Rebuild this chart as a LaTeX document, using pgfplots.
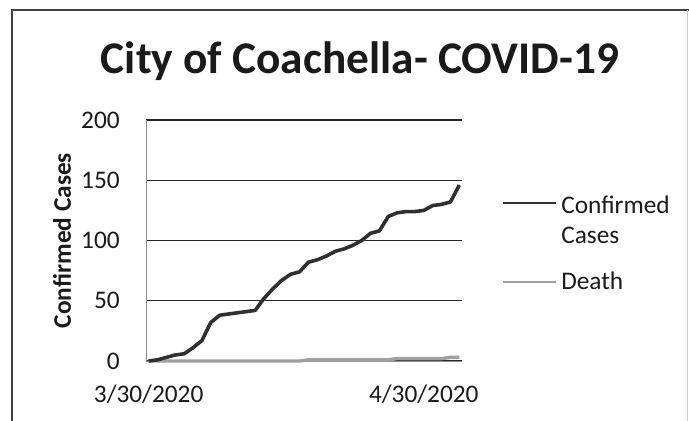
\documentclass[border=0pt]{standalone}
\usepackage{fontspec}
\setmainfont{Carlito}
\usepackage{pgfplots}
\usepackage{pgfplotstable}
\pgfplotsset{compat=1.18}

\definecolor{casecol}{HTML}{303030}
\definecolor{deathcol}{HTML}{A0A0A0}
\definecolor{gridcol}{HTML}{262626}
\definecolor{txtcol}{HTML}{1A1A1A}

% day 0 = 3/30/2020
\pgfplotstableread{
day cases deaths
0   0   0
1   1   0
2   3   0
3   5   0
4   6   0
5   11  0
6   17  0
7   32  0
8   38  0
9   39  0
10  40  0
11  41  0
12  42  0
13  52  0
14  60  0
15  67  0
16  72  0
17  74  0
18  82  1
19  84  1
20  87  1
21  91  1
22  93  1
23  96  1
24  100 1
25  106 1
26  108 1
27  120 1
28  123 2
29  124 2
30  124 2
31  125 2
32  129 2
33  130 2
34  132 3
35  146 3
}\covid

\newcommand\tickfont{\fontsize{19}{22}\selectfont}

\begin{document}
\begin{tikzpicture}
\begin{scope}[x=0.75pt,y=-0.75pt]
  \useasboundingbox (0,0) rectangle (689,421);
  \draw[black!75, line width=1.1pt] (12,421) -- (12,10) -- (689,10);
  \draw[black!20, line width=0.7pt] (687,10) -- (687,421);
  \node[anchor=base, inner sep=0pt, text=txtcol,
        font=\bfseries\fontsize{34}{40}\selectfont] at (360,73)
        {City of Coachella- COVID-19};
  % legend
  \draw[casecol, line width=2.2pt] (503,203) -- (556,203);
  \node[anchor=base west, inner sep=0pt, text=txtcol, font=\tickfont] at (561,213) {Confirmed};
  \node[anchor=base west, inner sep=0pt, text=txtcol, font=\tickfont] at (561,243) {Cases};
  \draw[deathcol, line width=2.2pt] (503,282) -- (556,282);
  \node[anchor=base west, inner sep=0pt, text=txtcol, font=\tickfont] at (561,289) {Death};
\end{scope}

\begin{axis}[
    at={(109.5pt,-270.75pt)}, anchor=south west,
    scale only axis,
    width=237pt, height=180.75pt,
    xmin=-0.3, xmax=35.3,
    ymin=0, ymax=200,
    ytick={0,50,...,200},
    xtick={0,31},
    xticklabels={3/30/2020,4/30/2020},
    ymajorgrids,
    grid style={gridcol, line width=0.8pt},
    axis lines*=left,
    axis line style={black!45, line width=0.6pt},
    tick style={draw=none},
    /pgf/number format/assume math mode=true,
    ticklabel style={font=\tickfont, text=txtcol},
    yticklabel style={anchor=east, inner sep=0pt, xshift=-19.5pt},
    xticklabel style={anchor=north, inner sep=0pt, yshift=-18pt},
    ylabel={Confirmed Cases},
    ylabel style={at={(axis description cs:-0.266,0.5)}, anchor=center,
                  font=\bfseries\tickfont, text=txtcol},
    clip=false,
]
\addplot[deathcol, line width=2.6pt] table[x=day, y=deaths] {\covid};
\addplot[casecol, line width=2.7pt, line join=round] table[x=day, y=cases] {\covid};
\end{axis}
\end{tikzpicture}
\end{document}
